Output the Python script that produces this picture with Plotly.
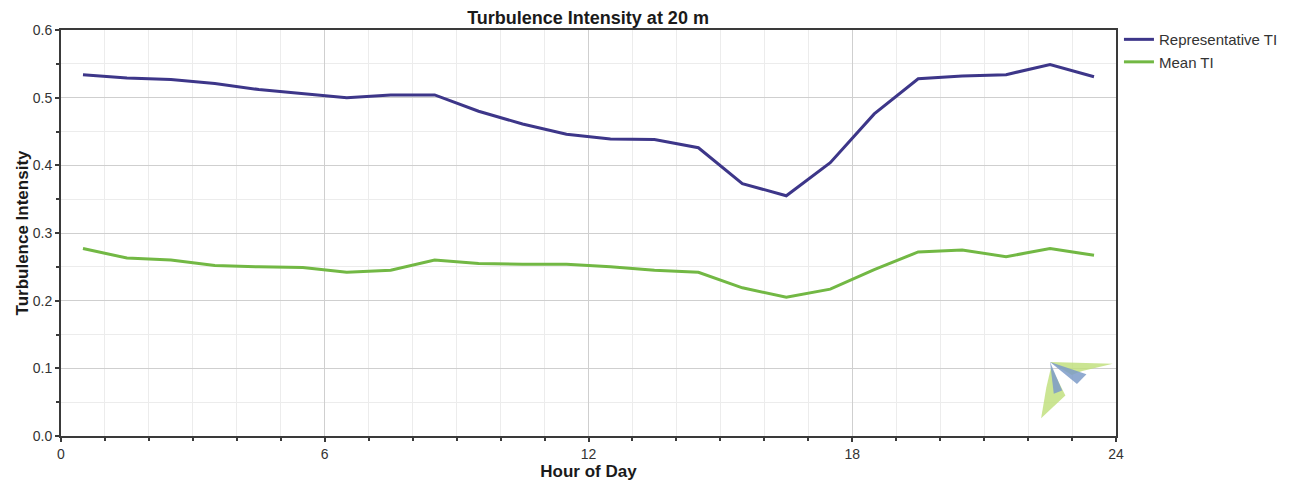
import plotly.graph_objects as go

hours = [0.5, 1.5, 2.5, 3.5, 4.5, 5.5, 6.5, 7.5, 8.5, 9.5, 10.5, 11.5,
         12.5, 13.5, 14.5, 15.5, 16.5, 17.5, 18.5, 19.5, 20.5, 21.5, 22.5, 23.5]
representative_ti = [0.534, 0.529, 0.527, 0.521, 0.512, 0.506, 0.500, 0.504,
                     0.504, 0.480, 0.461, 0.446, 0.439, 0.438, 0.426, 0.373,
                     0.355, 0.404, 0.476, 0.528, 0.532, 0.534, 0.549, 0.531]
mean_ti = [0.277, 0.263, 0.260, 0.252, 0.250, 0.249, 0.242, 0.245,
           0.260, 0.255, 0.254, 0.254, 0.250, 0.245, 0.242, 0.219,
           0.205, 0.217, 0.246, 0.272, 0.275, 0.265, 0.277, 0.267]
x_ticks = [0, 6, 12, 18, 24]
y_ticks = [0.0, 0.1, 0.2, 0.3, 0.4, 0.5, 0.6]

FONT = "Liberation Sans, Arial, sans-serif"

fig = go.Figure()
fig.add_trace(go.Scatter(x=hours, y=representative_ti, mode="lines",
                         name="Representative TI",
                         line=dict(color="#3d3689", width=3)))
fig.add_trace(go.Scatter(x=hours, y=mean_ti, mode="lines", name="Mean TI",
                         line=dict(color="#72b844", width=3)))

fig.update_layout(
    width=1302, height=483,
    margin=dict(l=53, r=194, t=22, b=55),
    paper_bgcolor="white", plot_bgcolor="white",
    font=dict(family=FONT, size=14, color="#333333"),
    title=dict(text="<b>Turbulence Intensity at 20 m</b>", x=0.4455, xanchor="center",
               y=0.979, yanchor="middle",
               font=dict(family=FONT, size=18, color="#1a1a1a")),
    legend=dict(x=1.0028, y=1.017, xanchor="left", yanchor="top",
                font=dict(family=FONT, size=15, color="#333333"),
                bgcolor="rgba(0,0,0,0)", tracegroupgap=0, itemwidth=30),
    showlegend=True,
)

fig.update_xaxes(
    range=[0, 24], tickmode="array", tickvals=x_ticks,
    ticktext=[str(t) for t in x_ticks],
    showgrid=True, gridcolor="#cfcfcf", gridwidth=1,
    showline=True, linecolor="#3a3a3a", linewidth=2, mirror=True,
    ticks="outside", ticklen=4, tickcolor="#3a3a3a", tickwidth=1.5,
    minor=dict(dtick=1, showgrid=True, gridcolor="#ececec", gridwidth=1,
               ticks="outside", ticklen=3, tickcolor="#3a3a3a", tickwidth=1.5),
    zeroline=False,
    title=dict(text="<b>Hour of Day</b>", standoff=2,
               font=dict(family=FONT, size=17, color="#1a1a1a")),
    tickfont=dict(family=FONT, size=14, color="#333333"),
)
fig.update_yaxes(
    range=[0, 0.6], tickmode="array", tickvals=y_ticks,
    ticktext=["%.1f" % t for t in y_ticks],
    showgrid=True, gridcolor="#cfcfcf", gridwidth=1,
    showline=True, linecolor="#3a3a3a", linewidth=2, mirror=True,
    ticks="outside", ticklen=4, tickcolor="#3a3a3a", tickwidth=1.5,
    minor=dict(dtick=0.05, showgrid=True, gridcolor="#ececec", gridwidth=1,
               ticks="outside", ticklen=3, tickcolor="#3a3a3a", tickwidth=1.5),
    zeroline=False,
    title=dict(text="<b>Turbulence Intensity</b>", standoff=0,
               font=dict(family=FONT, size=17, color="#1a1a1a")),
    tickfont=dict(family=FONT, size=14, color="#333333"),
)

# decorative logo watermark (bottom right of plot area)
GREEN = "rgba(190,222,120,0.8)"
BLUE = "rgba(125,155,200,0.85)"
fig.add_shape(type="path", xref="paper", yref="paper",
              path="M 0.9375,0.182 L 0.997,0.178 L 0.968,0.160 L 0.958,0.150 Z",
              fillcolor=GREEN, line=dict(width=0), layer="above")
fig.add_shape(type="path", xref="paper", yref="paper",
              path="M 0.9385,0.170 L 0.952,0.100 L 0.929,0.044 L 0.934,0.120 Z",
              fillcolor=GREEN, line=dict(width=0), layer="above")
fig.add_shape(type="path", xref="paper", yref="paper",
              path="M 0.9375,0.182 L 0.972,0.152 L 0.963,0.128 Z",
              fillcolor=BLUE, line=dict(width=0), layer="above")
fig.add_shape(type="path", xref="paper", yref="paper",
              path="M 0.9375,0.182 L 0.949,0.112 L 0.941,0.104 Z",
              fillcolor=BLUE, line=dict(width=0), layer="above")

fig.write_html("out.html")
